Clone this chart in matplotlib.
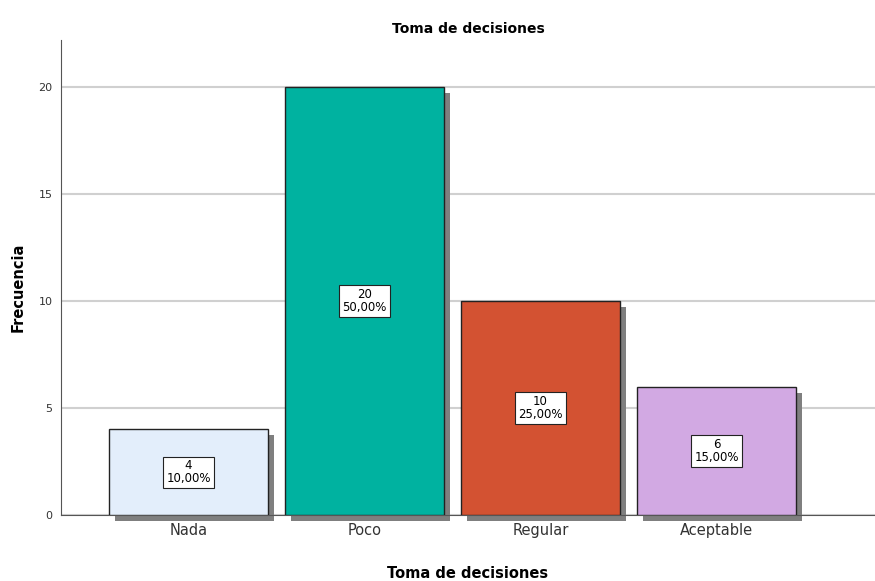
import matplotlib.pyplot as plt
import matplotlib.transforms as mtransforms
from matplotlib.patches import Rectangle

# --- Data ---
categories = ['Nada', 'Poco', 'Regular', 'Aceptable']
counts = [4, 20, 10, 6]
percents = ['10,00%', '50,00%', '25,00%', '15,00%']
colors = ['#E3EEFB', '#00B2A0', '#D35232', '#D2A9E3']

fig = plt.figure(figsize=(8.75, 5.81), dpi=100)
ax = fig.add_axes([0.0697, 0.1136, 0.9303, 0.8174])

width = 0.9
x = list(range(len(categories)))

# drop shadows, shifted 6px right and down
shadow_tr = ax.transData + mtransforms.ScaledTranslation(6 / 100, -6 / 100, fig.dpi_scale_trans)
for xi, c in zip(x, counts):
    ax.add_patch(Rectangle((xi - width / 2, 0), width, c, facecolor='#7F7F7F',
                           edgecolor='none', transform=shadow_tr, clip_on=False, zorder=2))

ax.bar(x, counts, width=width, color=colors, edgecolor='#222222', linewidth=1.0, zorder=3)

for xi, c, p in zip(x, counts, percents):
    ax.text(xi, c / 2, f'{c}\n{p}', ha='center', va='center', fontsize=8.5, zorder=4,
            linespacing=0.95,
            bbox=dict(boxstyle='square,pad=0.25', facecolor='white', edgecolor='#222222', linewidth=0.8))

ax.set_xlim(-0.724, 3.9)
ax.set_ylim(0, 22.2)
ax.set_yticks([0, 5, 10, 15, 20])
ax.set_xticks(x)
ax.set_xticklabels(categories, fontsize=10.5, color='#333333')
ax.tick_params(axis='y', labelsize=8, length=0, pad=6, colors='#333333')
ax.tick_params(axis='x', length=0, pad=6)
ax.yaxis.grid(True, color='#D0D0D0', linewidth=1.5, zorder=0)
ax.set_axisbelow(True)

for s in ['top', 'right']:
    ax.spines[s].set_visible(False)
ax.spines['left'].set_color('#555555')
ax.spines['bottom'].set_color('#555555')

ax.set_title('Toma de decisiones', fontsize=10, fontweight='bold', pad=5)
ax.set_xlabel('Toma de decisiones', fontsize=10.5, fontweight='bold', labelpad=20)
ax.set_ylabel('Frecuencia', fontsize=10.5, fontweight='bold', va='center')
ax.yaxis.set_label_coords(-0.053, 0.48)

plt.savefig('out.png', dpi=100)
print("Plot saved")
